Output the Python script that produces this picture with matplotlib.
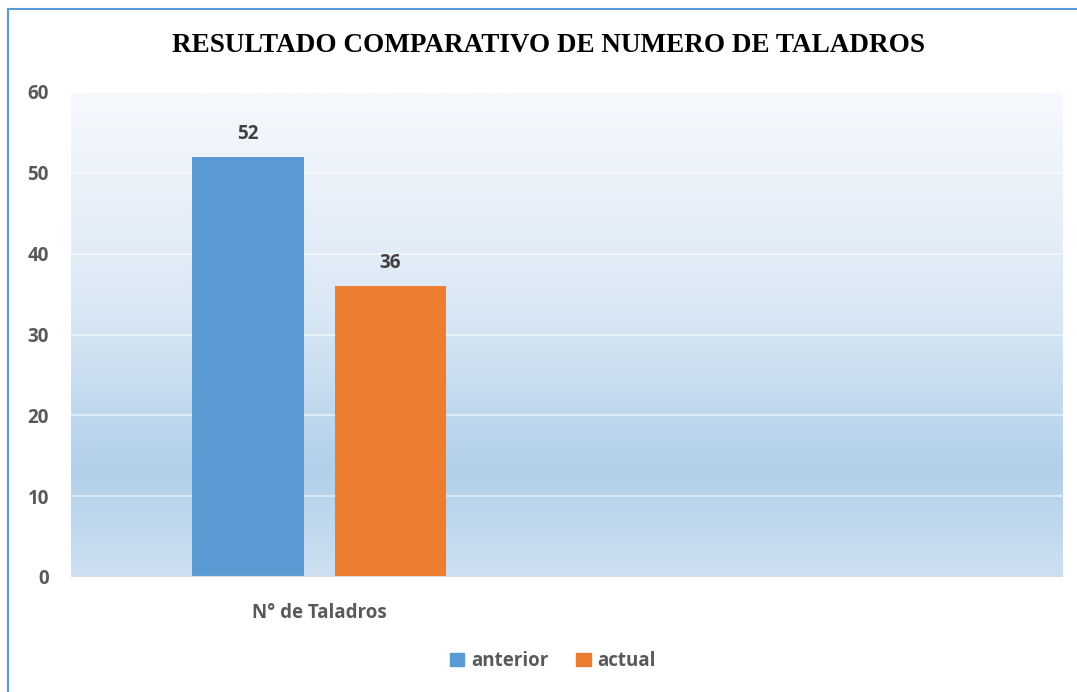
import matplotlib.pyplot as plt
import numpy as np
from matplotlib.colors import LinearSegmentedColormap
from matplotlib.patches import Patch
from matplotlib.lines import Line2D

categorias = ["N° de Taladros", ""]
anterior = [52, np.nan]
actual = [36, np.nan]
series = ["anterior", "actual"]
colores = ["#5b9bd5", "#ed7d31"]

titulo = "RESULTADO COMPARATIVO DE NUMERO DE TALADROS"

plt.rcParams['font.family'] = ['Open Sans', 'DejaVu Sans']
peso = "bold"

fig = plt.figure(figsize=(10.77, 6.92), dpi=100)
ax = fig.add_axes([71 / 1077, 1 - 577 / 692, (1063 - 71) / 1077, (577 - 92) / 692])

# fondo degradado (arriba claro, abajo azul)
fondo = LinearSegmentedColormap.from_list(
    "fondo", [(0, "#f6f9fd"), (0.45, "#dae8f5"), (0.78, "#b2d0ea"), (1, "#cde0f1")])
grad = np.linspace(0, 1, 256).reshape(-1, 1)
ax.imshow(grad, aspect="auto", cmap=fondo, extent=[-0.5, 1.5, 0, 60],
          origin="upper", zorder=0)

x = np.arange(len(categorias))
ancho = 0.224
sep = 0.0625
b1 = ax.bar(x - (ancho + sep) / 2, anterior, ancho, color=colores[0], zorder=3)
b2 = ax.bar(x + (ancho + sep) / 2, actual, ancho, color=colores[1], zorder=3)

for barras, vals in [(b1, anterior), (b2, actual)]:
    for r, v in zip(barras, vals):
        if not np.isnan(v):
            ax.text(r.get_x() + r.get_width() / 2, v + 2.8, f"{v:.0f}",
                    ha="center", va="center", fontsize=13.5, fontweight=peso,
                    color="#404040")

ax.set_xlim(-0.5, 1.5)
ax.set_ylim(0, 60)
ax.set_yticks(range(0, 61, 10))
for y in range(10, 61, 10):
    ax.axhline(y, color="white", lw=1.2, alpha=0.6, zorder=1)
ax.axhline(0, color="#d9d9d9", lw=1.5, zorder=4)

ax.set_xticks([0])
ax.set_xticklabels([categorias[0]])
ax.tick_params(length=0, labelsize=13.5, labelcolor="#595959")
ax.tick_params(axis="x", pad=19)
ax.tick_params(axis="y", pad=16)
for lbl in ax.get_xticklabels() + ax.get_yticklabels():
    lbl.set_fontweight(peso)
for s in ax.spines.values():
    s.set_visible(False)

fig.text(549 / 1077, 1 - 46 / 692, titulo, ha="center", va="center",
         fontsize=19.5, fontweight="bold", family="Liberation Serif", color="black")

handles = [Patch(color=c, label=s) for c, s in zip(colores, series)]
fig.legend(handles=handles, loc="center", bbox_to_anchor=(553 / 1077, 1 - 661 / 692),
           ncol=2, frameon=False, handlelength=0.75, handleheight=0.75,
           handletextpad=0.35, columnspacing=1.5,
           prop={"size": 13.5, "weight": peso}, labelcolor="#595959")

# marco recortado
fig.add_artist(Line2D([8 / 1077, 8 / 1077], [0, 1 - 9 / 692], color="#5b9bd5", lw=1.5))
fig.add_artist(Line2D([8 / 1077, 1], [1 - 9 / 692, 1 - 9 / 692], color="#5b9bd5", lw=1.5))

fig.savefig("out.png", dpi=100)
